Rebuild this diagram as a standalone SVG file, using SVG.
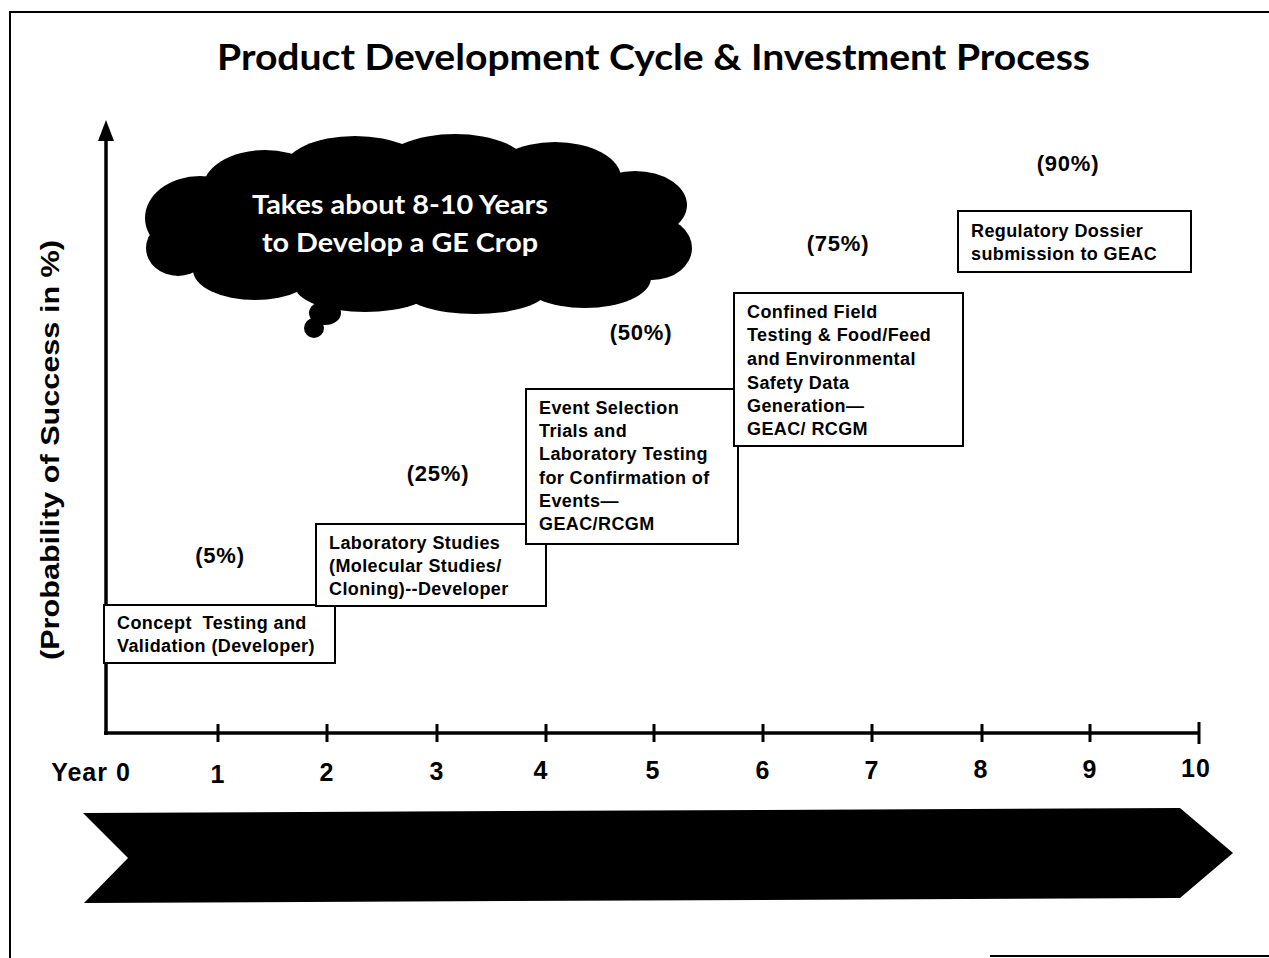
<svg xmlns="http://www.w3.org/2000/svg" width="1269" height="958" viewBox="0 0 1269 958">
  <style>
    .frame { fill: none; stroke: #000; stroke-width: 2; }
    .axis { fill: none; stroke: #000; stroke-width: 3.5; }
    .tick { stroke: #000; stroke-width: 3; }
    .box rect { fill: #fff; stroke: #000; stroke-width: 2; }
    .box text { font-family: "Liberation Sans", Arial, sans-serif; font-weight: bold; font-size: 18px; letter-spacing: 0.4px; fill: #000; white-space: pre; }
    .pct { font-family: "Liberation Sans", Arial, sans-serif; font-weight: bold; font-size: 22px; letter-spacing: 0.8px; text-anchor: middle; fill: #000; }
    .year { font-family: "Liberation Sans", Arial, sans-serif; font-weight: bold; font-size: 25px; letter-spacing: 1px; text-anchor: middle; fill: #000; }
    .title { font-family: Lato, "Open Sans", sans-serif; font-weight: bold; font-size: 36px; fill: #000; }
    .cloudtext { font-family: Lato, "Open Sans", sans-serif; font-weight: bold; font-size: 27px; fill: #fff; }
    .ylabel { font-family: "Liberation Sans", Arial, sans-serif; font-weight: bold; font-size: 25px; fill: #000; }
  </style>

  <rect width="1269" height="958" fill="#fff"/>

  <!-- page frame -->
  <path class="frame" d="M10,958 V12 H1269"/>
  <path class="frame" d="M990,956 H1269"/>

  <!-- title -->
  <text class="title" x="217" y="70" textLength="873" lengthAdjust="spacingAndGlyphs">Product Development Cycle &amp; Investment Process</text>

  <!-- thought cloud -->
  <g id="cloud">
    <g fill="#000">
      <ellipse cx="410" cy="232" rx="235" ry="68"/>
      <ellipse cx="200" cy="218" rx="55" ry="42"/>
      <ellipse cx="265" cy="188" rx="62" ry="38"/>
      <ellipse cx="355" cy="170" rx="72" ry="34"/>
      <ellipse cx="455" cy="166" rx="72" ry="32"/>
      <ellipse cx="555" cy="178" rx="66" ry="36"/>
      <ellipse cx="635" cy="205" rx="52" ry="34"/>
      <ellipse cx="652" cy="248" rx="40" ry="32"/>
      <ellipse cx="585" cy="278" rx="66" ry="30"/>
      <ellipse cx="475" cy="290" rx="72" ry="24"/>
      <ellipse cx="365" cy="286" rx="70" ry="26"/>
      <ellipse cx="255" cy="270" rx="62" ry="30"/>
      <ellipse cx="178" cy="248" rx="32" ry="28"/>
      <ellipse cx="325" cy="313" rx="16" ry="12"/>
      <ellipse cx="314" cy="328" rx="10" ry="10"/>
    </g>
    <text class="cloudtext" x="252" y="214" textLength="296" lengthAdjust="spacingAndGlyphs">Takes about 8-10 Years</text>
    <text class="cloudtext" x="262" y="252" textLength="276" lengthAdjust="spacingAndGlyphs">to Develop a GE Crop</text>
  </g>

  <!-- axes -->
  <g id="axes">
    <line class="axis" x1="106" y1="735" x2="106" y2="136"/>
    <polygon points="98,141 106,120 114,141" fill="#000"/>
    <line class="axis" x1="104" y1="733" x2="1200" y2="733"/>
    <g class="tick">
      <line x1="218" y1="724" x2="218" y2="742"/>
      <line x1="327" y1="724" x2="327" y2="742"/>
      <line x1="437" y1="724" x2="437" y2="742"/>
      <line x1="546" y1="724" x2="546" y2="742"/>
      <line x1="654" y1="724" x2="654" y2="742"/>
      <line x1="763" y1="724" x2="763" y2="742"/>
      <line x1="872" y1="724" x2="872" y2="742"/>
      <line x1="982" y1="724" x2="982" y2="742"/>
      <line x1="1090" y1="724" x2="1090" y2="742"/>
      <line x1="1199" y1="722" x2="1199" y2="744"/>
    </g>
    <text class="year" x="91" y="781">Year 0</text>
    <text class="year" x="218" y="783">1</text>
    <text class="year" x="327" y="781">2</text>
    <text class="year" x="437" y="780">3</text>
    <text class="year" x="541" y="779">4</text>
    <text class="year" x="653" y="779">5</text>
    <text class="year" x="763" y="779">6</text>
    <text class="year" x="872" y="779">7</text>
    <text class="year" x="981" y="778">8</text>
    <text class="year" x="1090" y="778">9</text>
    <text class="year" x="1196" y="777">10</text>
    <text class="ylabel" transform="translate(59,660) rotate(-90)" textLength="420" lengthAdjust="spacingAndGlyphs">(Probability of Success in %)</text>
  </g>

  <!-- stage boxes -->
  <g id="stage1" class="box">
    <rect x="104" y="605" width="231" height="58"/>
    <text x="117" y="629" xml:space="preserve">Concept  Testing and</text>
    <text x="117" y="652">Validation (Developer)</text>
  </g>
  <g id="stage2" class="box">
    <rect x="316" y="524" width="230" height="82"/>
    <text x="329" y="549">Laboratory Studies</text>
    <text x="329" y="572">(Molecular Studies/</text>
    <text x="329" y="595">Cloning)--Developer</text>
  </g>
  <g id="stage3" class="box">
    <rect x="526" y="389" width="212" height="155"/>
    <text x="539" y="414">Event Selection</text>
    <text x="539" y="437">Trials and</text>
    <text x="539" y="460">Laboratory Testing</text>
    <text x="539" y="484">for Confirmation of</text>
    <text x="539" y="507">Events—</text>
    <text x="539" y="530">GEAC/RCGM</text>
  </g>
  <g id="stage4" class="box">
    <rect x="734" y="293" width="229" height="153"/>
    <text x="747" y="318">Confined Field</text>
    <text x="747" y="341">Testing &amp; Food/Feed</text>
    <text x="747" y="365">and Environmental</text>
    <text x="747" y="389">Safety Data</text>
    <text x="747" y="412">Generation—</text>
    <text x="747" y="435">GEAC/ RCGM</text>
  </g>
  <g id="stage5" class="box">
    <rect x="958" y="211" width="233" height="61"/>
    <text x="971" y="237">Regulatory Dossier</text>
    <text x="971" y="260">submission to GEAC</text>
  </g>

  <!-- success probabilities -->
  <g id="probabilities">
    <text class="pct" x="220" y="563">(5%)</text>
    <text class="pct" x="438" y="481">(25%)</text>
    <text class="pct" x="641" y="340">(50%)</text>
    <text class="pct" x="838" y="251">(75%)</text>
    <text class="pct" x="1068" y="171">(90%)</text>
  </g>

  <!-- investment timeline arrow -->
  <g id="timeline">
    <path d="M83,813 L1180,808 L1233,853 L1180,898 L84,903 L128,858 Z" fill="#000"/>
  </g>
</svg>
